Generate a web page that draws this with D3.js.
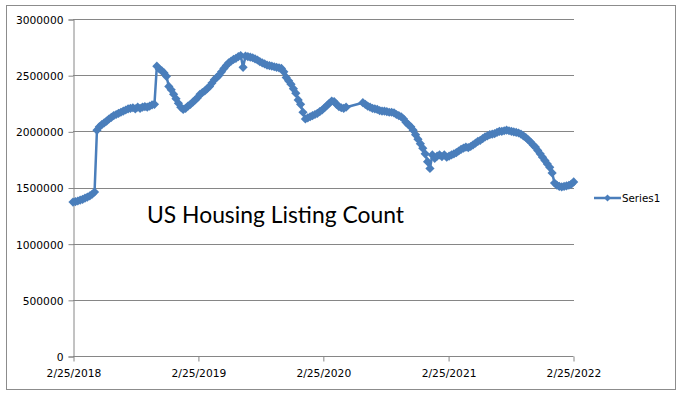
<!DOCTYPE html>
<html>
<head>
<meta charset="utf-8">
<script src="https://cdn.jsdelivr.net/npm/d3@7"></script>
<style>
  html, body { margin: 0; padding: 0; background: #fff; }
  svg { display: block; }
  .tick text { font-family: "DejaVu Sans", sans-serif; font-size: 10.7px; fill: #000; }
</style>
</head>
<body>
<svg id="chart" width="682" height="396"></svg>
<script>
// weekly readings starting 2/25/2018, in thousands of listings (null = no reading that week)
const firstWeek = new Date(2018, 1, 25);
const listingsK = [
  1370, 1375, 1380, 1388, 1395, 1405, 1415, 1425, 1440, 1460,
  2010, 2040, 2060, 2075, 2090, 2110, 2125, 2140, 2150, 2160,
  2170, 2180, 2190, 2200, 2205, 2210, 2200, 2215, 2205, 2215,
  2220, 2215, 2225, 2235, 2240, 2580, 2555, 2540, 2520, 2490,
  2400, 2370, 2330, 2290, 2250, 2215, 2195, 2205, 2225, 2240,
  2260, 2280, 2300, 2330, 2345, 2360, 2380, 2400, 2430, 2460,
  2480, 2500, 2530, 2560, 2585, 2610, 2625, 2640, 2650, 2665,
  2675, 2570, 2670, 2665, 2660, 2655, 2645, 2635, 2620, 2610,
  2600, 2590, 2585, 2580, 2575, 2570, 2565, 2560, 2530, 2480,
  2450, 2420, 2380, 2340, 2280, 2240, 2170, 2110, 2120, 2130,
  2140, 2150, 2160, 2175, 2190, 2210, 2230, 2250, 2270, 2265,
  2240, 2220, 2210, 2205, 2215, null, null, null, null, null,
  null, 2255, 2240, 2225, 2215, 2205, 2200, 2195, 2185, 2180,
  2180, 2175, 2170, 2170, 2165, 2150, 2140, 2130, 2110, 2080,
  2060, 2040, 2010, 1970, 1930, 1890, 1850, 1800, 1730, 1670,
  1790, 1760, 1780, 1790, 1775, 1790, 1770, 1780, 1790, 1800,
  1810, 1825, 1840, 1850, 1860, 1855, 1865, 1880, 1895, 1910,
  1920, 1935, 1950, 1960, 1970, 1975, 1980, 1990, 2000, 2000,
  2005, 2010, 2005, 2000, 1995, 1990, 1985, 1975, 1960, 1945,
  1925, 1905, 1880, 1860, 1830, 1800, 1770, 1740, 1710, 1680,
  1630, 1540, 1520, 1510, 1505, 1510, 1515, 1520, 1530, 1550,
];
const xTickDates = ['2/25/2018', '2/25/2019', '2/25/2020', '2/25/2021', '2/25/2022'];
const yTicksK = [0, 500, 1000, 1500, 2000, 2500, 3000];
const title = 'US Housing Listing Count';
const seriesName = 'Series1';

const blue = '#4a7ebb';
const grid = '#868686';
const svg = d3.select('#chart');
const parse = d3.timeParse('%m/%d/%Y');
const fmt = d3.timeFormat('%-m/%-d/%Y');

const x = d3.scaleTime().domain([parse(xTickDates[0]), parse(xTickDates[xTickDates.length - 1])]).range([73, 573]);
const y = d3.scaleLinear().domain([0, 3000]).range([356, 19]);

const points = listingsK
  .map((value, index) => ({ date: d3.timeDay.offset(firstWeek, index * 7), value }))
  .filter((d) => d.value != null);

// outer chart frame
svg.append('rect').attr('x', 6.5).attr('y', 5.5).attr('width', 669).attr('height', 384)
  .attr('fill', '#fff').attr('stroke', '#8c8c8c');

// horizontal gridlines
svg.append('g').selectAll('line').data(yTicksK.slice(1)).join('line')
  .attr('x1', 73).attr('x2', 574)
  .attr('y1', (d) => Math.round(y(d)) + 0.5).attr('y2', (d) => Math.round(y(d)) + 0.5)
  .attr('stroke', grid).attr('stroke-width', 1);

const yAxis = svg.append('g').attr('transform', 'translate(73.5,0.5)')
  .call(d3.axisLeft(y).tickValues(yTicksK).tickFormat((d) => String(d * 1000)).tickSize(5).tickPadding(5));
yAxis.selectAll('line, path').attr('stroke', grid);
yAxis.selectAll('text').attr('dy', '0.36em');

const xAxis = svg.append('g').attr('transform', 'translate(0.5,356.5)')
  .call(d3.axisBottom(x).tickValues(xTickDates.map(parse)).tickFormat(fmt).tickSize(5).tickPadding(8).tickSizeOuter(0));
xAxis.selectAll('line, path').attr('stroke', grid);
xAxis.select('.domain').attr('d', 'M72.5,0H573');

// series
const line = d3.line().x((d) => x(d.date)).y((d) => y(d.value));
svg.append('path').datum(points)
  .attr('fill', 'none').attr('stroke', blue).attr('stroke-width', 2.5).attr('stroke-linejoin', 'round')
  .attr('d', line);

const diamond = 'M0,-4.6L4.6,0L0,4.6L-4.6,0Z';
svg.append('g').selectAll('path').data(points).join('path')
  .attr('d', diamond)
  .attr('transform', (d) => `translate(${x(d.date)},${y(d.value)})`)
  .attr('fill', blue);

// title inside the plot
svg.append('text').attr('x', 147).attr('y', 223)
  .attr('font-family', 'Lato, "Open Sans", sans-serif').attr('font-size', 23)
  .attr('textLength', 257).attr('lengthAdjust', 'spacingAndGlyphs')
  .attr('fill', '#000').text(title);

// legend
const legend = svg.append('g').attr('transform', 'translate(594,198)');
legend.append('line').attr('x1', 0).attr('x2', 27).attr('stroke', blue).attr('stroke-width', 2.5);
legend.append('path').attr('d', 'M0,-3.5L3.5,0L0,3.5L-3.5,0Z').attr('transform', 'translate(13.5,0)').attr('fill', blue);
legend.append('text').attr('x', 28).attr('y', 4)
  .attr('font-family', '"DejaVu Sans", sans-serif').attr('font-size', 10.3)
  .attr('fill', '#000').text(seriesName);
</script>
</body>
</html>
